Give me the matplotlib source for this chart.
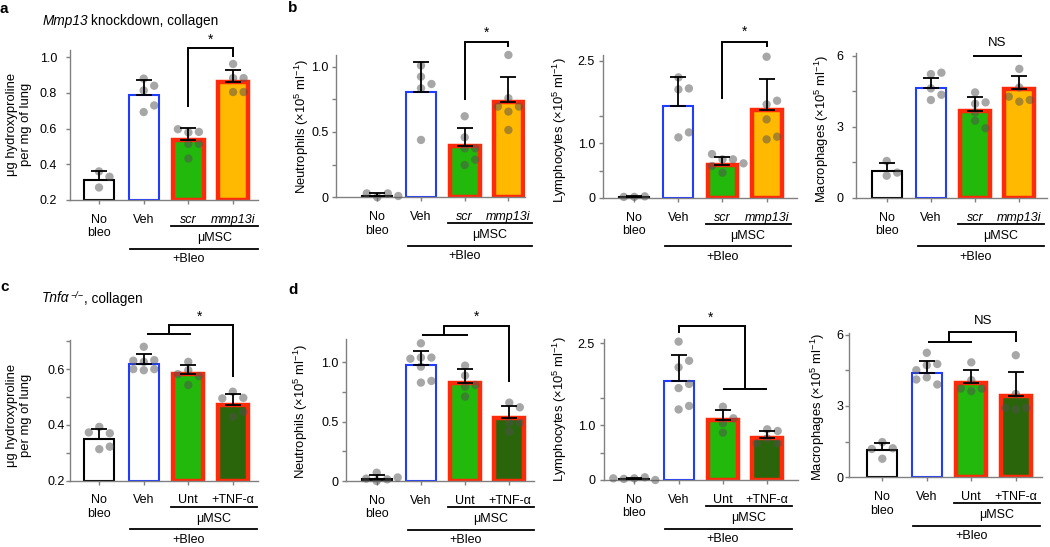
import matplotlib
matplotlib.use('Agg')
import matplotlib.pyplot as plt
import numpy as np
from matplotlib.transforms import blended_transform_factory, offset_copy

plt.rcParams['font.family'] = ['Liberation Sans', 'DejaVu Sans']
plt.rcParams['mathtext.fontset'] = 'custom'
plt.rcParams['mathtext.rm'] = 'Liberation Sans'
plt.rcParams['mathtext.it'] = 'Liberation Sans:italic'
plt.rcParams['mathtext.bf'] = 'Liberation Sans:bold'

# ---------------- data ----------------
labels_top = ['No\nbleo', 'Veh', 'scr', 'mmp13i']
labels_bot = ['No\nbleo', 'Veh', 'Unt', '+TNF-α']

# a: hydroxyproline, Mmp13 knockdown
a_means = [0.31, 0.785, 0.533, 0.862]
a_sds = [0.055, 0.084, 0.069, 0.067]
a_pts = [[0.36, 0.33, 0.27],
         [0.879, 0.813, 0.839, 0.692, 0.729],
         [0.578, 0.581, 0.596, 0.514, 0.514, 0.432],
         [0.961, 0.882, 0.882, 0.804, 0.804]]
# b: neutrophils
bn_means = [0.013, 0.806, 0.395, 0.732]
bn_sds = [0.017, 0.227, 0.136, 0.191]
bn_pts = [[0.0, 0.03, 0.03, 0.01],
          [1.008, 0.923, 0.834, 0.867, 0.439],
          [0.62, 0.459, 0.375, 0.375, 0.247, 0.288],
          [1.089, 0.758, 0.656, 0.694, 0.694, 0.515]]
# b: lymphocytes
bl_means = [0.02, 1.675, 0.60, 1.60]
bl_sds = [0.01, 0.52, 0.14, 0.56]
bl_pts = [[0.02, 0.03, 0.02],
          [2.197, 1.978, 1.996, 1.104, 1.195],
          [0.704, 0.704, 0.80, 0.461, 0.583, 0.631],
          [2.573, 1.705, 1.772, 1.432, 1.068, 1.117]]
# b: macrophages
bm_means = [1.15, 4.62, 3.68, 4.58]
bm_sds = [0.32, 0.45, 0.58, 0.56]
bm_pts = [[1.56, 0.94, 1.07],
          [5.22, 5.28, 4.62, 4.13, 4.35],
          [4.45, 3.97, 4.03, 3.61, 3.26, 2.94],
          [5.44, 4.66, 4.06, 4.13, 4.27]]
# c: hydroxyproline, Tnfa-/-
c_means = [0.348, 0.620, 0.582, 0.472]
c_sds = [0.036, 0.033, 0.031, 0.038]
c_pts = [[0.393, 0.37, 0.373, 0.313, 0.322],
         [0.68, 0.626, 0.632, 0.63, 0.596, 0.6, 0.6],
         [0.626, 0.596, 0.575, 0.582, 0.543],
         [0.519, 0.497, 0.495, 0.429, 0.447]]
# d: neutrophils
dn_means = [0.02, 0.978, 0.829, 0.528]
dn_sds = [0.03, 0.12, 0.112, 0.107]
dn_pts = [[0.07, 0.014, 0.02, 0.03, 0.0],
          [1.16, 1.04, 1.04, 1.03, 0.963, 0.829, 0.843],
          [0.972, 0.795, 0.809, 0.711, 0.888],
          [0.66, 0.621, 0.492, 0.416, 0.49]]
# d: lymphocytes
dl_means = [0.02, 1.817, 1.098, 0.774]
dl_sds = [0.02, 0.463, 0.182, 0.122]
dl_pts = [[0.03, 0.05, 0.02, 0.0, 0.03],
          [2.53, 2.06, 2.18, 1.68, 1.756, 1.29, 1.354],
          [1.34, 1.037, 1.128, 0.866],
          [0.927, 0.896, 0.76, 0.67, 0.67]]
# d: macrophages
dm_means = [1.15, 4.39, 3.97, 3.43]
dm_sds = [0.3, 0.48, 0.53, 1.0]
dm_pts = [[1.48, 1.22, 1.19, 0.78],
          [5.23, 4.71, 4.76, 4.5, 4.2, 3.9, 4.11],
          [4.83, 4.08, 3.62, 3.73, 3.73],
          [5.13, 3.5, 2.85, 2.92, 2.92]]

# ---------------- styles ----------------
BLUE = '#1f3cff'
RED = '#ff2a0a'
GREEN = '#22b80c'
ORANGE = '#ffb900'
DKGREEN = '#2b650b'
SPINE = '#808080'
fills_top = ['white', 'white', GREEN, ORANGE]
fills_bot = ['white', 'white', GREEN, DKGREEN]
edges = ['black', BLUE, RED, RED]
edge_lw = [1.5, 1.5, 3.2, 3.2]
FS = 9.0
FS_Y = 9.4
TICKLEN = 3.0  # points

W, H = 1050, 547
fig = plt.figure(figsize=(10.5, 5.47), dpi=100)


def swarm(vals, ppu, sp, d=8.0, step=10.5):
    placed, offs = [], []
    for v in vals:
        y = v * ppu
        xo = 0.0
        for k in [0, 1, -1, 2, -2, 3, -3]:
            xo = k * step
            if all((xo - px) ** 2 + (y - py) ** 2 >= (d * 0.95) ** 2 for px, py in placed):
                break
        placed.append((xo, y))
        offs.append(xo / sp)
    return offs


def panel(spine, right, c0, sp, ybase, ppu, ylim, ticks, ticklabels,
          means, sds, pts, labels, fills, ylabel, ylab_xy, ygap):
    top = ybase - (ylim[1] - ylim[0]) * ppu
    ax = fig.add_axes([spine / W, 1 - ybase / H, (right - spine) / W, (ybase - top) / H])
    ax.set_xlim((spine - c0) / sp, (right - c0) / sp)
    ax.set_ylim(*ylim)
    x = np.arange(len(means))
    base = ylim[0]
    ax.bar(x, np.array(means) - base, bottom=base, width=0.68, color=fills,
           edgecolor=edges, linewidth=edge_lw, zorder=2)
    for i, p in enumerate(pts):
        offs = swarm(p, ppu, sp)
        ax.scatter(i + np.array(offs), p, s=36, color='#505050', alpha=0.5,
                   edgecolors='none', zorder=3, clip_on=False)
    ax.errorbar(x, means, yerr=[np.zeros(len(means)), sds], fmt='none', ecolor='black',
                elinewidth=1.3, capsize=5.5, capthick=1.3, zorder=4)
    for s in ['top', 'right']:
        ax.spines[s].set_visible(False)
    for s in ['left', 'bottom']:
        ax.spines[s].set_color(SPINE)
        ax.spines[s].set_linewidth(1.0)
    ax.set_yticks(ticks)
    ax.set_yticklabels(ticklabels)
    ax.set_xticks(x)
    ax.set_xticklabels(labels, linespacing=1.2)
    ax.tick_params(axis='both', direction='out', length=TICKLEN, width=1, color=SPINE,
                   labelsize=FS)
    ypad = max(ygap / 1.389 - TICKLEN, 0.5)
    ax.tick_params(axis='y', pad=ypad)
    ax.tick_params(axis='x', pad=6.8)
    if labels[2] == 'scr':
        for t in ax.get_xticklabels()[2:]:
            t.set_style('italic')
    fig.text(ylab_xy[0] / W, 1 - ylab_xy[1] / H, ylabel, rotation=90, ha='center',
             va='center', fontsize=FS_Y, linespacing=1.15)
    # group lines below the axis
    base_tr = blended_transform_factory(ax.transData, ax.transAxes)

    def tr(off):
        return offset_copy(base_tr, fig=fig, y=-off, units='dots')
    ax.plot([1.62, 3.55], [0, 0], color='black', lw=1.3, transform=tr(26), clip_on=False)
    ax.text(2.58, 0, 'μMSC', transform=tr(38), ha='center', va='center', fontsize=FS)
    ax.plot([0.70, 3.55], [0, 0], color='black', lw=1.3, transform=tr(48.5), clip_on=False)
    ax.text(2.0, 0, '+Bleo', transform=tr(59), ha='center', va='center', fontsize=FS)
    return ax


def line(ax, xs, ys):
    ax.plot(xs, ys, color='black', lw=1.4, clip_on=False, solid_joinstyle='miter',
            solid_capstyle='butt', zorder=5)


def star(ax, x, y, s='*', fs=10):
    ax.text(x, y, s, ha='center', va='center', fontsize=fs, clip_on=False)


yl_cell = lambda name: name + ' (×10$^{5}$ ml$^{-1}$)'

# ---- top row ----
axA = panel(70, 258, 99, 44.7, 200, 178.75, (0.2, 1.04), [0.2, 0.4, 0.6, 0.8, 1.0],
            ['0.2', '0.4', '0.6', '0.8', '1.0'], a_means, a_sds, a_pts, labels_top,
            fills_top, 'μg hydroxyproline\nper mg of lung', (19, 124), 13.0)
line(axA, [2, 2, 3, 3], [0.72, 1.05, 1.05, 1.0])
star(axA, 2.5, 1.095)

axB = panel(335.7, 525, 377.3, 43.7, 197.3, 130.7, (0, 1.09), [0, 0.25, 0.5, 0.75, 1.0],
            ['0', '', '0.5', '', '1.0'], bn_means, bn_sds, bn_pts, labels_top,
            fills_top, yl_cell('Neutrophils'), (301.7, 126), 7.4)
line(axB, [2, 2, 3, 3], [0.745, 1.19, 1.19, 1.148])
star(axB, 2.5, 1.257)

axC = panel(603.3, 797, 634.3, 44.1, 198, 54.9, (0, 2.6), [0, 0.5, 1.0, 1.5, 2.5],
            ['0', '', '1.0', '', '2.5'], bl_means, bl_sds, bl_pts, labels_top,
            fills_top, yl_cell('Lymphocytes'), (560, 130), 8.3)
line(axC, [2, 2, 3, 3], [1.80, 2.847, 2.847, 2.745])
star(axC, 2.5, 3.02)

axD = panel(855.7, 1046.7, 886.7, 44.2, 198, 23.73, (0, 6.1), [0, 1.5, 3, 4.5, 6],
            ['0', '', '3', '', '6'], bm_means, bm_sds, bm_pts, labels_top,
            fills_top, yl_cell('Macrophages'), (822, 129), 12.4)
line(axD, [1.95, 3.07], [6.0, 6.0])
star(axD, 2.5, 6.52, 'NS', FS + 0.5)

# ---- bottom row ----
axE = panel(70, 258, 99.3, 44.5, 480.7, 279, (0.2, 0.705), [0.2, 0.3, 0.4, 0.5, 0.6, 0.7],
            ['0.2', '', '0.4', '', '0.6', ''], c_means, c_sds, c_pts, labels_bot,
            fills_bot, 'μg hydroxyproline\nper mg of lung', (19, 415), 5.5)
line(axE, [1.07, 2.06], [0.725, 0.725])
line(axE, [1.57, 1.57, 3, 3], [0.725, 0.758, 0.758, 0.571])
star(axE, 2.25, 0.788)

axF = panel(346, 534, 376.7, 44.2, 481, 118.7, (0, 1.2), [0, 0.25, 0.5, 0.75, 1.0],
            ['0', '', '0.5', '', '1.0'], dn_means, dn_sds, dn_pts, labels_bot,
            fills_bot, yl_cell('Neutrophils'), (301, 411), 7.7)
line(axF, [1.03, 2.06], [1.23, 1.23])
line(axF, [1.53, 1.53, 3, 3], [1.23, 1.306, 1.306, 0.837])
star(axF, 2.26, 1.38)

axG = panel(604, 798, 634.3, 44.3, 480, 54.7, (0, 2.57), [0, 0.5, 1.0, 1.5, 2.5],
            ['0', '', '1.0', '', '2.5'], dl_means, dl_sds, dl_pts, labels_bot,
            fills_bot, yl_cell('Lymphocytes'), (560, 409), 9.0)
line(axG, [1, 1, 2.5, 2.5], [2.68, 2.82, 2.82, 1.676])
line(axG, [2.0, 3.0], [1.664, 1.664])
star(axG, 1.71, 2.97)

axH = panel(849, 1041.7, 882.3, 44.5, 477.3, 23.8, (0, 6.05), [0, 1.5, 3, 4.5, 6],
            ['0', '', '3', '', '6'], dm_means, dm_sds, dm_pts, labels_bot,
            fills_bot, yl_cell('Macrophages'), (818, 407), 5.7)
line(axH, [1.02, 2.01], [5.70, 5.70])
line(axH, [1.5, 1.5, 3, 3], [5.70, 6.09, 6.09, 5.70])
star(axH, 2.26, 6.58, 'NS', FS + 0.5)


# ---- titles (mixed italic / upright pieces) and panel letters ----
def rich(x_px, base_px, parts):
    renderer = fig.canvas.get_renderer()
    x = x_px
    for s, style, dy, fs, gap in parts:
        x += gap
        t = fig.text(x / W, 1 - (base_px - dy) / H, s, fontsize=fs, style=style,
                     ha='left', va='baseline')
        x += t.get_window_extent(renderer).width


FS_T = 9.8
rich(43.0, 24.5, [('Mmp13', 'italic', 0, FS_T, 0), ('knockdown, collagen', 'normal', 0, FS_T, 2.5)])
rich(41.7, 302.5, [('Tnfα', 'italic', 0, FS_T, 0), ('−/−', 'italic', 5, 6.5, 0.8),
                   (', collagen', 'normal', 0, FS_T, 0.5)])
for lt, (lx, ly) in zip('abcd', [(0, 9), (288, 8), (0, 287), (288, 290)]):
    fig.text(lx / W, 1 - ly / H, lt, ha='left', va='center', fontsize=11, fontweight='bold')

fig.savefig('out.png', dpi=100)
